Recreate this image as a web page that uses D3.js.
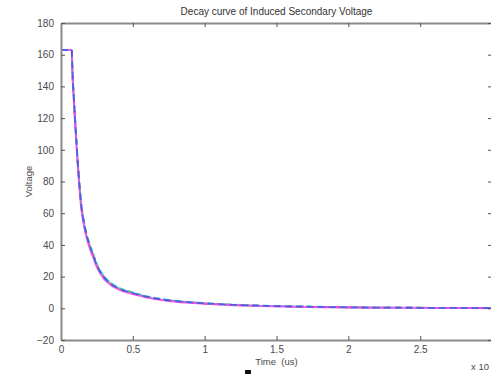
<!DOCTYPE html>
<html>
<head>
<meta charset="utf-8">
<script src="https://cdn.jsdelivr.net/npm/d3@7"></script>
<style>
  body { margin: 0; background: #fff; }
  svg { display: block; font-family: 'Liberation Sans', Arial, sans-serif; }
</style>
</head>
<body>
<div id="chart"></div>
<script>
const width = 491
const height = 374
const margin = { top: 23, right: -1, bottom: 34, left: 61 }

// time axis, scaled by the (cut off) x 10^n factor
const time = [0, 0.075, 0.076, 0.08, 0.09, 0.1, 0.12, 0.14, 0.16, 0.18, 0.2, 0.22, 0.25, 0.3, 0.35, 0.4, 0.5, 0.6, 0.7, 0.8, 0.9, 1.0, 1.2, 1.4, 1.6, 1.8, 2.0, 2.3, 2.6, 3.0]

const seriesCyan = [163, 163, 161, 150, 133, 117, 89, 67, 55, 46.5, 40.5, 35.5, 28, 20.3, 15.8, 13.1, 10, 7.5, 5.9, 4.7, 3.9, 3.3, 2.3, 1.7, 1.3, 1.0, 0.7, 0.5, 0.3, 0.2]
const seriesGreen = [163, 163, 160, 149, 132, 116, 88, 66.5, 54.5, 46, 40, 35, 27.5, 19.8, 15.5, 12.8, 9.8, 7.3, 5.7, 4.6, 3.8, 3.2, 2.2, 1.6, 1.2, 0.9, 0.6, 0.4, 0.3, 0.2]
const seriesRed = [163, 163, 160, 148.5, 131, 115, 87, 65, 53, 45, 39, 34, 26.5, 19, 14.8, 12.3, 9.3, 7, 5.5, 4.4, 3.6, 3.0, 2.1, 1.5, 1.1, 0.8, 0.6, 0.4, 0.3, 0.1]
const seriesBlue = [163, 163, 160, 149, 132, 116, 88, 66, 54, 45.5, 39.5, 34.5, 27, 19.5, 15.2, 12.6, 9.6, 7.2, 5.6, 4.5, 3.7, 3.1, 2.2, 1.6, 1.2, 0.9, 0.6, 0.4, 0.3, 0.2]
const seriesMagenta = [163, 163, 159, 147, 130, 114, 86, 64, 52, 44, 38, 33, 26, 18.5, 14.5, 12, 9, 6.8, 5.3, 4.2, 3.5, 2.9, 2.0, 1.4, 1.0, 0.7, 0.5, 0.3, 0.2, 0.1]

const xTicks = [0, 0.5, 1, 1.5, 2, 2.5, 3]
const xTickLabels = ['0', '0.5', '1', '1.5', '2', '2.5', '']
const yTicks = [-20, 0, 20, 40, 60, 80, 100, 120, 140, 160, 180]

const series = [
  { name: 'cyan', values: seriesCyan, color: '#2fd0e0', dash: '6,3' },
  { name: 'green', values: seriesGreen, color: '#3cc84a', dash: '4,6' },
  { name: 'red', values: seriesRed, color: '#ff2a4a', dash: '5,7' },
  { name: 'magenta', values: seriesMagenta, color: '#f050e8', dash: null },
  { name: 'blue', values: seriesBlue, color: '#3a5ee8', dash: '7,4' }
]

const svg = d3.select('#chart').append('svg')
  .attr('width', width)
  .attr('height', height)

const x = d3.scaleLinear().domain([0, 3]).range([margin.left, width - margin.right])
const y = d3.scaleLinear().domain([-20, 180]).range([height - margin.bottom, margin.top])

const axisColor = '#8a8a8a'
const textColor = '#4a4a4a'

// curves
const line = d3.line()
  .x((d, i) => x(time[i]))
  .y(d => y(d))
  .curve(d3.curveMonotoneX)

svg.append('g')
  .selectAll('path')
  .data(series)
  .join('path')
  .attr('d', d => line(d.values))
  .attr('fill', 'none')
  .attr('stroke', d => d.color)
  .attr('stroke-width', d => d.name === 'magenta' ? 2 : 1.8)
  .attr('stroke-dasharray', d => d.dash)
  .attr('opacity', 0.9)

// axes (inward ticks, box)
const axisBottomG = svg.append('g')
  .attr('transform', `translate(0,${y(-20)})`)
  .call(d3.axisBottom(x).tickValues(xTicks).tickSizeInner(-4).tickSizeOuter(0).tickPadding(6)
    .tickFormat((d, i) => xTickLabels[i]))
const axisTopG = svg.append('g')
  .attr('transform', `translate(0,${y(180)})`)
  .call(d3.axisTop(x).tickValues(xTicks).tickSizeInner(-4).tickSizeOuter(0).tickFormat(''))
const axisLeftG = svg.append('g')
  .attr('transform', `translate(${x(0)},0)`)
  .call(d3.axisLeft(y).tickValues(yTicks).tickSizeInner(-4).tickSizeOuter(0).tickPadding(7))
const axisRightG = svg.append('g')
  .attr('transform', `translate(${x(3)},0)`)
  .call(d3.axisRight(y).tickValues(yTicks).tickSizeInner(-4).tickSizeOuter(0).tickFormat(''))

for (const g of [axisBottomG, axisTopG, axisLeftG, axisRightG]) {
  g.select('.domain').attr('stroke', axisColor).attr('stroke-width', 2)
  g.selectAll('.tick line').attr('stroke', '#555').attr('stroke-width', 1)
  g.selectAll('.tick text').attr('fill', textColor).attr('font-size', 10)
    .attr('font-family', "'Liberation Sans', Arial, sans-serif")
}

// labels
svg.append('text')
  .attr('x', (x(0) + x(3)) / 2)
  .attr('y', 15)
  .attr('text-anchor', 'middle')
  .attr('font-size', 10)
  .attr('fill', '#333')
  .text('Decay curve of Induced Secondary Voltage')

svg.append('text')
  .attr('transform', `translate(32,${(y(-20) + y(180)) / 2}) rotate(-90)`)
  .attr('text-anchor', 'middle')
  .attr('font-size', 9.5)
  .attr('fill', textColor)
  .text('Voltage')

svg.append('text')
  .attr('x', (x(0) + x(3)) / 2)
  .attr('y', 365)
  .attr('text-anchor', 'middle')
  .attr('font-size', 9.5)
  .attr('fill', textColor)
  .attr('xml:space', 'preserve')
  .text('Time  (us)')

svg.append('text')
  .attr('x', 489)
  .attr('y', 370)
  .attr('text-anchor', 'end')
  .attr('font-size', 9.5)
  .attr('fill', textColor)
  .text('x 10')

// cursor artifact in the screenshot
svg.append('rect')
  .attr('x', 245).attr('y', 370).attr('width', 6).attr('height', 4)
  .attr('fill', '#111')
</script>
</body>
</html>
